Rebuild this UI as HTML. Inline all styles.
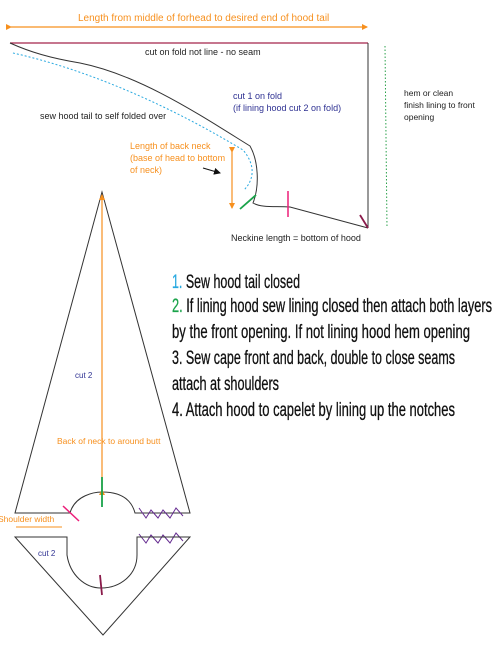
<!DOCTYPE html>
<html><head><meta charset="utf-8"><style>
html,body{margin:0;padding:0;background:#fff;}
svg{display:block;}
text{font-family:"Liberation Sans",sans-serif;}
</style></head><body>
<svg width="500" height="647" viewBox="0 0 500 647" xmlns="http://www.w3.org/2000/svg">
<defs>
<marker id="ah" markerWidth="6" markerHeight="6" refX="5" refY="3" orient="auto" markerUnits="userSpaceOnUse"><path d="M0,0 L6,3 L0,6 z" fill="#f7901e"/></marker>
<marker id="ahb" markerWidth="7" markerHeight="7" refX="6" refY="3.5" orient="auto" markerUnits="userSpaceOnUse"><path d="M0,0 L7,3.5 L0,7 z" fill="#111"/></marker>
</defs>
<line x1="11" y1="27" x2="367" y2="27" stroke="#f7901e" stroke-width="1.2" marker-end="url(#ah)" marker-start="url(#ah)"/>
<text x="78" y="21" font-size="10" fill="#f7901e">Length from middle of forhead to desired end of hood tail</text>
<line x1="10" y1="43" x2="368" y2="43" stroke="#a3244a" stroke-width="1.3"/>
<line x1="368" y1="43" x2="368" y2="228" stroke="#333" stroke-width="1"/>
<path d="M10,43 C30,52 50,58 80,63 C140,75 200,115 250,146 C258,160 260,185 253,203 C262,208 275,206 290,207 L368,228" fill="none" stroke="#333" stroke-width="1"/>
<path d="M13,53 C80,68 160,100 243,150 C256,165 254,180 244,190" fill="none" stroke="#29a9e0" stroke-width="1" stroke-dasharray="2,2"/>
<line x1="385" y1="46" x2="387" y2="228" stroke="#2aa04a" stroke-width="1" stroke-dasharray="1.5,2"/>
<text x="145" y="55" font-size="9" fill="#222">cut on fold not line - no seam</text>
<text x="233" y="99" font-size="9" fill="#2e3192">cut 1 on fold</text>
<text x="233" y="111" font-size="9" fill="#2e3192">(if lining hood cut 2 on fold)</text>
<text x="40" y="119" font-size="9" fill="#222">sew hood tail to self folded over</text>
<text x="130" y="149" font-size="9" fill="#f7901e">Length of back neck</text>
<text x="130" y="161" font-size="9" fill="#f7901e">(base of head to bottom</text>
<text x="130" y="173" font-size="9" fill="#f7901e">of neck)</text>
<line x1="203" y1="168" x2="220" y2="173" stroke="#111" stroke-width="1" marker-end="url(#ahb)"/>
<line x1="232" y1="152" x2="232" y2="208" stroke="#f7901e" stroke-width="1.2" marker-end="url(#ah)" marker-start="url(#ah)"/>
<line x1="240" y1="209" x2="256" y2="195" stroke="#1aa34a" stroke-width="1.8"/>
<line x1="288" y1="191" x2="288" y2="217" stroke="#ec1e79" stroke-width="1.5"/>
<line x1="360" y1="215" x2="368" y2="228" stroke="#8a1a4a" stroke-width="1.8"/>
<text x="231" y="241" font-size="9" fill="#222">Neckine length = bottom of hood</text>
<text x="404" y="96" font-size="8.5" fill="#222">hem or clean</text>
<text x="404" y="108" font-size="8.5" fill="#222">finish lining to front</text>
<text x="404" y="120" font-size="8.5" fill="#222">opening</text>
<g font-size="19" fill="#111" stroke="#111" stroke-width="0.3">
<text x="172" y="288" textLength="128" lengthAdjust="spacingAndGlyphs"><tspan fill="#29a9e0" stroke="#29a9e0">1.</tspan> Sew hood tail closed</text>
<text x="172" y="312" textLength="320" lengthAdjust="spacingAndGlyphs"><tspan fill="#1aa34a" stroke="#1aa34a">2.</tspan> If lining hood sew lining closed then attach both layers</text>
<text x="172" y="338" textLength="298" lengthAdjust="spacingAndGlyphs">by the front opening. If not lining hood hem opening</text>
<text x="172" y="364" textLength="283" lengthAdjust="spacingAndGlyphs">3. Sew cape front and back, double to close seams</text>
<text x="172" y="390" textLength="107" lengthAdjust="spacingAndGlyphs">attach at shoulders</text>
<text x="172" y="416" textLength="283" lengthAdjust="spacingAndGlyphs">4. Attach hood to capelet by lining up the notches</text>
</g>
<path d="M102,192 L15,513 L70,513 C75,495 95,492 102,492 C112,492 130,494 135,513 L190,513 Z" fill="none" stroke="#333" stroke-width="1"/>
<line x1="102" y1="490" x2="102" y2="195" stroke="#f7901e" stroke-width="1.2" marker-end="url(#ah)" marker-start="url(#ah)"/>
<line x1="102" y1="477" x2="102" y2="507" stroke="#1aa34a" stroke-width="1.8"/>
<line x1="63" y1="506" x2="79" y2="521" stroke="#ec1e79" stroke-width="1.5"/>
<polyline points="139,508 146,518 151,510 158,518 163,510 170,518 176,508 183,516" fill="none" stroke="#662d91" stroke-width="1"/>
<polyline points="139,534 146,543 151,535 158,543 163,535 170,543 176,533 183,541" fill="none" stroke="#662d91" stroke-width="1"/>
<text x="75" y="378" font-size="8" fill="#2e3192">cut 2</text>
<text x="57" y="444" font-size="8.5" fill="#f7901e">Back of neck to around butt</text>
<text x="-2" y="522" font-size="8.5" fill="#f7901e">Shoulder width</text>
<line x1="16" y1="527" x2="62" y2="527" stroke="#f7901e" stroke-width="1"/>
<path d="M15,537 L67,537 L67,555 C70,575 85,588 101,588 C120,588 137,575 137,555 L137,537 L190,537 L103,635 Z" fill="none" stroke="#333" stroke-width="1"/>
<line x1="100" y1="575" x2="102" y2="595" stroke="#8a1a4a" stroke-width="1.8"/>
<text x="38" y="556" font-size="8" fill="#2e3192">cut 2</text>
</svg>
</body></html>
